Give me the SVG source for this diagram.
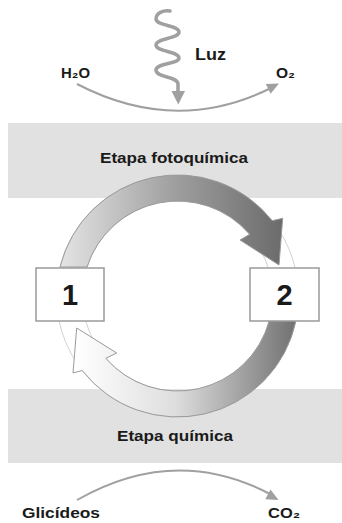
<svg xmlns="http://www.w3.org/2000/svg" width="342" height="523" viewBox="0 0 342 523">
  <style>
    .lbl { font-family: "Liberation Sans", Arial, sans-serif; font-weight: bold; fill: #1a1a1a; }
    .band { fill: #e1e1e1; }
    .flow { fill: none; stroke: #a0a0a0; stroke-width: 2; }
    .head { fill: #a0a0a0; }
    .ring { fill: none; stroke: #d2d2d2; stroke-width: 1; }
    .box { fill: #ffffff; stroke: #9a9a9a; stroke-width: 1.5; }
    .arr { stroke: #9a9a9a; stroke-width: 1; stroke-linejoin: miter; }
  </style>
  <defs>
    <linearGradient id="gTop" gradientUnits="userSpaceOnUse" x1="60" y1="0" x2="285" y2="0">
      <stop offset="0" stop-color="#e4e4e4"/>
      <stop offset="0.5" stop-color="#a0a0a0"/>
      <stop offset="1" stop-color="#6a6a6a"/>
    </linearGradient>
    <linearGradient id="gBot" gradientUnits="userSpaceOnUse" x1="75" y1="0" x2="297" y2="0">
      <stop offset="0" stop-color="#ffffff"/>
      <stop offset="0.45" stop-color="#dedede"/>
      <stop offset="1" stop-color="#707070"/>
    </linearGradient>
  </defs>

  <g id="bands">
    <rect class="band" x="8" y="123" width="334" height="75"/>
    <rect class="band" x="8" y="389" width="334" height="74"/>
  </g>

  <g id="connectors">
    <path class="flow" d="M 77 84 Q 175 135 270 88.5"/>
    <polygon class="head" points="279,83.5 270.6,93.7 265.8,83.9"/>
    <path d="M 170 11 C 163 10, 156 13, 156 19 C 156 26, 179 25, 179 32 C 179 39, 156 38, 156 45 C 156 52, 179 51, 179 58 C 179 64, 156 63, 156 70 C 156 78, 178 76, 178 84 L 178 92" fill="none" stroke="#a0a0a0" stroke-width="3.5" stroke-linecap="round"/>
    <polygon class="head" points="171.5,91 185,91 178.3,104.5"/>
    <path class="flow" d="M 77 500 Q 175 444 270 494"/>
    <polygon class="head" points="278.5,500 265.3,499.3 270.5,489.5"/>
  </g>

  <g id="cycle">
    <circle class="ring" cx="177.5" cy="296" r="121"/>
    <circle class="ring" cx="177.5" cy="296" r="95"/>
    <path id="arrow-top" class="arr" fill="url(#gTop)" d="M 60 267 A 121 121 0 0 1 272.2 220.7 L 282.7 218.3 L 279 265 L 240 240 L 249.7 234.3 A 95 95 0 0 0 87 267 Z"/>
    <path id="arrow-bottom" class="arr" fill="url(#gBot)" d="M 295.9 321 A 121 121 0 0 1 82.2 370.5 L 73 373 L 76.7 328 L 116.7 353 L 105.8 358.3 A 95 95 0 0 0 269.2 321 Z"/>
  </g>

  <g id="node-1">
    <rect class="box" x="36" y="268" width="68" height="53"/>
    <text class="lbl" x="70" y="305" font-size="29" text-anchor="middle">1</text>
  </g>
  <g id="node-2">
    <rect class="box" x="250" y="268" width="69" height="53"/>
    <text class="lbl" x="284.5" y="305" font-size="29" text-anchor="middle">2</text>
  </g>

  <g id="labels">
    <text class="lbl" x="61" y="78" font-size="15" textLength="29" lengthAdjust="spacingAndGlyphs">H₂O</text>
    <text class="lbl" x="276" y="78" font-size="15" textLength="19" lengthAdjust="spacingAndGlyphs">O₂</text>
    <text class="lbl" x="195" y="60" font-size="17" textLength="31" lengthAdjust="spacingAndGlyphs">Luz</text>
    <text class="lbl" x="100" y="163" font-size="15" textLength="148" lengthAdjust="spacingAndGlyphs">Etapa fotoquímica</text>
    <text class="lbl" x="117" y="441" font-size="15" textLength="116" lengthAdjust="spacingAndGlyphs">Etapa química</text>
    <text class="lbl" x="22" y="518" font-size="15" textLength="78" lengthAdjust="spacingAndGlyphs">Glicídeos</text>
    <text class="lbl" x="268" y="518" font-size="15" textLength="32" lengthAdjust="spacingAndGlyphs">CO₂</text>
  </g>
</svg>
